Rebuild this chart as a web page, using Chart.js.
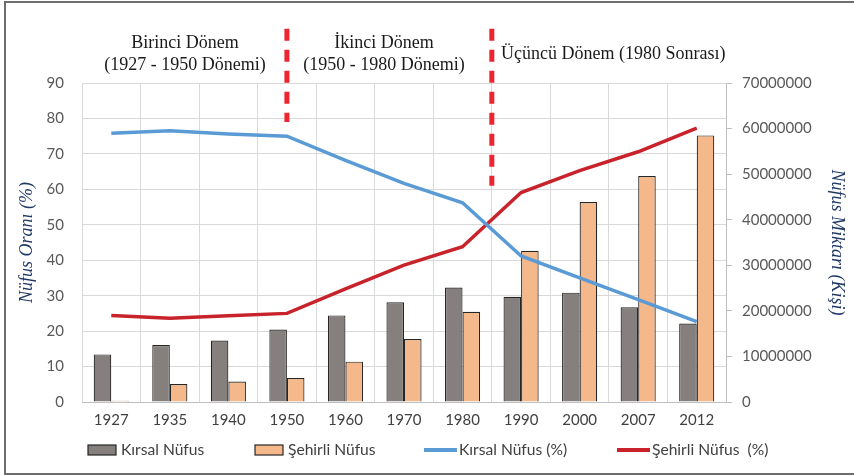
<!DOCTYPE html>
<html lang="tr">
<head>
<meta charset="UTF-8">
<title>Nüfus Grafiği</title>
<script src="https://cdn.jsdelivr.net/npm/chart.js"></script>
<style>
    body { margin: 0; background: #fff; }
    #wrap { position: relative; width: 854px; height: 475px; overflow: hidden; }
    #frame {
        position: absolute; left: 4px; top: 1px; width: 870px; height: 474px;
        border: 2px solid #6e6e6e; box-sizing: border-box; pointer-events: none;
    }
</style>
</head>
<body>
<div id="wrap">
    <canvas id="grafik"></canvas>
    <div id="frame"></div>
</div>
<script>
    // Veriler
    const yillar = ['1927', '1935', '1940', '1950', '1960', '1970', '1980', '1990', '2000', '2007', '2012'];
    const kirsalNufus = [10450000, 12500000, 13500000, 15900000, 19000000, 21900000, 25100000, 23100000, 24000000, 20800000, 17200000];
    const sehirliNufus = [300000, 3950000, 4500000, 5250000, 8850000, 13800000, 19800000, 33200000, 43900000, 49600000, 58500000];
    const kirsalOran = [75.8, 76.5, 75.6, 75.0, 68.2, 61.7, 56.2, 41.2, 35.0, 28.9, 22.7];
    const sehirliOran = [24.4, 23.6, 24.3, 25.0, 31.9, 38.6, 43.8, 59.1, 65.3, 70.6, 77.3];
    const sol_ticks = [0, 90, 10];
    const sag_ticks = [0, 70000000, 10000000];

    // dönem ayrımları: kategori konumu ve çizginin alt ucu (sol eksen değeri)
    const donemSinirlari = [3, 6.5];
    const donemAltUc = [79, 61];

    const tickFont = { family: 'Lato', size: 15 };
    const baslikFont = { family: 'Liberation Serif', size: 18, style: 'italic' };

    // dönem başlıkları ve kesikli çizgiler
    const donemPlugin = {
        id: 'donemler',
        afterDatasetsDraw(chart) {
            const c = chart.ctx;
            const x = chart.scales.x, y = chart.scales.y;
            c.save();
            c.strokeStyle = '#ee2430';
            c.lineWidth = 5;
            c.setLineDash([12, 9]);
            donemSinirlari.forEach((v, i) => {
                const px = x.getPixelForValue(v);
                c.beginPath();
                c.moveTo(px, y.getPixelForValue(105.3));
                c.lineTo(px, y.getPixelForValue(donemAltUc[i]));
                c.stroke();
            });
            c.setLineDash([]);
            c.fillStyle = '#1a1a1a';
            c.font = '18px "Liberation Serif"';
            c.textBaseline = 'middle';
            c.textAlign = 'center';
            c.fillText('Birinci Dönem', 185, 43);
            c.fillText('(1927 - 1950 Dönemi)', 185, 65);
            c.fillText('İkinci Dönem', 384, 43);
            c.fillText('(1950 - 1980 Dönemi)', 384, 65);
            c.textAlign = 'left';
            c.fillText('Üçüncü Dönem (1980 Sonrası)', 501, 54);
            c.restore();
        }
    };

    // Excel tarzı lejant
    const lejantPlugin = {
        id: 'lejant',
        afterDraw(chart) {
            const c = chart.ctx;
            const ds = chart.data.datasets;
            const konum = [88, 255, 424, 617];
            const yy = 450;
            c.save();
            c.font = '15.6px Lato';
            c.textBaseline = 'middle';
            ds.forEach((d, i) => {
                const x0 = konum[i];
                let metinX;
                if (d.type === 'line') {
                    c.strokeStyle = d.borderColor;
                    c.lineWidth = 4;
                    c.beginPath();
                    c.moveTo(x0, yy);
                    c.lineTo(x0 + 33, yy);
                    c.stroke();
                    metinX = x0 + 35;
                } else {
                    c.fillStyle = d.backgroundColor;
                    c.fillRect(x0, yy - 5, 28, 10);
                    c.strokeStyle = d.borderColor;
                    c.lineWidth = 1.2;
                    c.strokeRect(x0, yy - 5, 28, 10);
                    metinX = x0 + 33;
                }
                c.fillStyle = '#404040';
                c.fillText(d.label, metinX, yy);
            });
            c.restore();
        }
    };

    const ctx = document.getElementById('grafik').getContext('2d');
    new Chart(ctx, {
        type: 'bar',
        data: {
            labels: yillar,
            datasets: [
                {
                    label: 'Kırsal Nüfus',
                    data: kirsalNufus,
                    yAxisID: 'y2',
                    backgroundColor: '#857f7d',
                    borderColor: '#262626',
                    borderWidth: 1.2,
                    categoryPercentage: 0.6,
                    barPercentage: 1,
                    order: 2
                },
                {
                    label: 'Şehirli Nüfus',
                    data: sehirliNufus,
                    yAxisID: 'y2',
                    backgroundColor: '#f4b88a',
                    borderColor: '#262626',
                    borderWidth: 1.2,
                    categoryPercentage: 0.6,
                    barPercentage: 1,
                    order: 2
                },
                {
                    type: 'line',
                    label: 'Kırsal Nüfus (%)',
                    data: kirsalOran,
                    yAxisID: 'y',
                    borderColor: '#5b9bd5',
                    backgroundColor: '#5b9bd5',
                    borderWidth: 3.5,
                    pointRadius: 0,
                    tension: 0,
                    order: 1
                },
                {
                    type: 'line',
                    label: 'Şehirli Nüfus  (%)',
                    data: sehirliOran,
                    yAxisID: 'y',
                    borderColor: '#c8232b',
                    backgroundColor: '#c8232b',
                    borderWidth: 3.5,
                    pointRadius: 0,
                    tension: 0,
                    order: 1
                }
            ]
        },
        options: {
            responsive: true,
            maintainAspectRatio: false,
            animation: false,
            layout: { padding: { top: 83, left: 8, right: 0, bottom: 45 } },
            plugins: {
                legend: { display: false },
                tooltip: { enabled: false }
            },
            scales: {
                x: {
                    grid: { color: '#d9d9d9', drawTicks: false, offset: true },
                    border: { color: '#bfbfbf' },
                    ticks: { color: '#404040', font: tickFont, padding: 9, maxRotation: 0 },
                    afterFit: s => { s.height = 28; }
                },
                y: {
                    position: 'left',
                    min: sol_ticks[0],
                    max: sol_ticks[1],
                    ticks: { stepSize: sol_ticks[2], color: '#595959', font: tickFont, padding: 18 },
                    grid: { color: '#d9d9d9', drawTicks: false },
                    border: { display: false },
                    title: {
                        display: true, text: 'Nüfus Oranı (%)', color: '#1f3864',
                        font: baslikFont, padding: { top: 8, bottom: 0 }
                    },
                    afterFit: s => { s.width = 74; }
                },
                y2: {
                    position: 'right',
                    min: sag_ticks[0],
                    max: sag_ticks[1],
                    ticks: {
                        stepSize: sag_ticks[2], color: '#595959', font: tickFont, padding: 10,
                        callback: v => String(v)
                    },
                    grid: { drawOnChartArea: false, color: '#bfbfbf', tickLength: 6 },
                    border: { color: '#bfbfbf' },
                    title: {
                        display: true, text: 'Nüfus Miktarı (Kişi)', color: '#1f3864',
                        font: baslikFont, padding: { top: 6, bottom: 0 }
                    },
                    afterFit: s => { s.width = 128; }
                }
            }
        },
        plugins: [donemPlugin, lejantPlugin]
    });
</script>
</body>
</html>
